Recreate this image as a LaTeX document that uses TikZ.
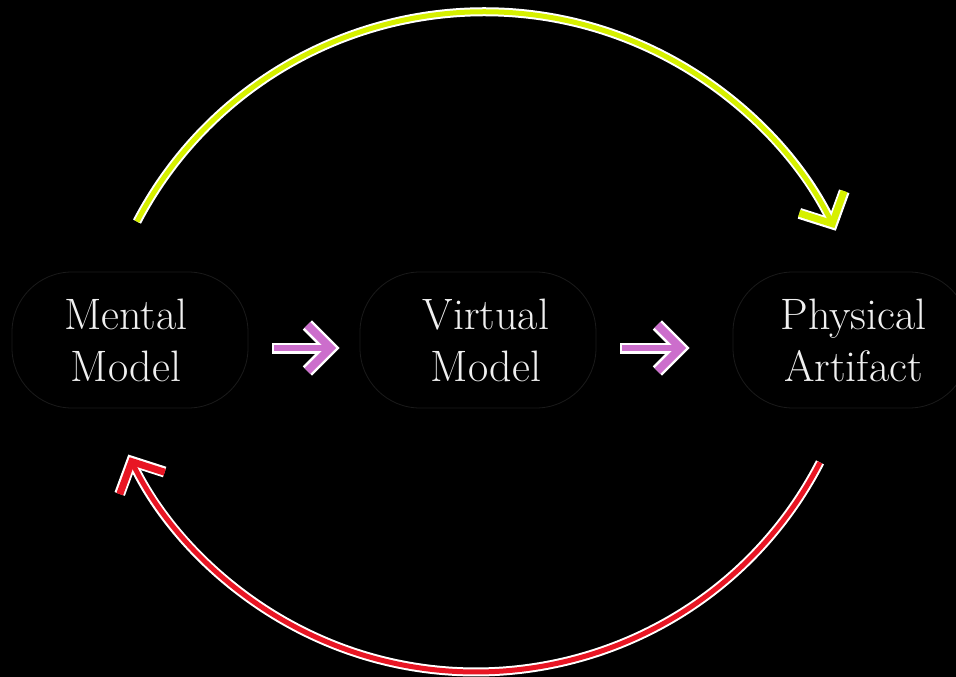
\documentclass[tikz,border=0pt]{standalone}
\usepackage{tikz}
\usetikzlibrary{arrows.meta}
\definecolor{limeyellow}{RGB}{214,240,0}
\definecolor{loopred}{RGB}{232,22,36}
\definecolor{stepviolet}{RGB}{204,110,204}
\definecolor{boxgray}{RGB}{26,26,26}
\tikzset{
	box/.style={draw=boxgray, line width=0.8pt, rounded corners=60pt, minimum width=236pt, minimum height=136pt, text=white!94!black, align=center, font=\fontsize{44}{52}\selectfont},
	halo/.style={draw=white, line width=#1},
	core/.style={line width=#1},
	bigtip/.style={-{Straight Barb[sharp, length=24pt, width=50pt, line width=2pt 1]}},
	smalltip/.style={-{Straight Barb[sharp, length=23pt, width=46pt, line width=2pt 1]}}
}

\begin{document}
\begin{tikzpicture}[x=1pt, y=-1pt]
		%%%%% START %%%%%
		
		\fill[black] (0, 0) rectangle (956, 677);
		\useasboundingbox (0, 0) rectangle (956, 677);
		
		\node[box] (mental) at (130, 340) {Mental\hspace*{8pt}\\Model\hspace*{8pt}};
		\node[box] (virtual) at (478, 340) {\hspace*{16pt}Virtual\\\hspace*{16pt}Model};
		\node[box] (physical) at (851, 340) {\hspace*{5pt}Physical\\\hspace*{5pt}Artifact};
		
		\coordinate (topstart) at ([shift={(7, -50)}]mental.north);
		\coordinate (botstart) at ([shift={(-31, 54)}]physical.south);
		
		% top loop
		\draw[halo=9pt, bigtip] (topstart) arc[start angle=-152.3, end angle=-26.2, radius=392];
		\draw[core=5pt, limeyellow, bigtip, shorten >=3pt] (topstart) arc[start angle=-152.3, end angle=-26.2, radius=392];
		
		% bottom loop
		\draw[halo=9pt, bigtip] (botstart) arc[start angle=27.3, end angle=154, radius=387];
		\draw[core=5pt, loopred, bigtip, shorten >=3pt] (botstart) arc[start angle=27.3, end angle=154, radius=387];
		
		% steps
		\draw[halo=11pt, smalltip, shorten <=24pt, shorten >=20pt] ([yshift=-8pt]mental.east) -- ([yshift=-8pt]virtual.west);
		\draw[core=6pt, stepviolet, smalltip, shorten <=26pt, shorten >=23.5pt] ([yshift=-8pt]mental.east) -- ([yshift=-8pt]virtual.west);
		
		\draw[halo=11pt, smalltip, shorten <=24pt, shorten >=43pt] ([yshift=-8pt]virtual.east) -- ([yshift=-8pt]physical.west);
		\draw[core=6pt, stepviolet, smalltip, shorten <=26pt, shorten >=46.5pt] ([yshift=-8pt]virtual.east) -- ([yshift=-8pt]physical.west);
		
		%%%%% END %%%%%
\end{tikzpicture}
\end{document}
